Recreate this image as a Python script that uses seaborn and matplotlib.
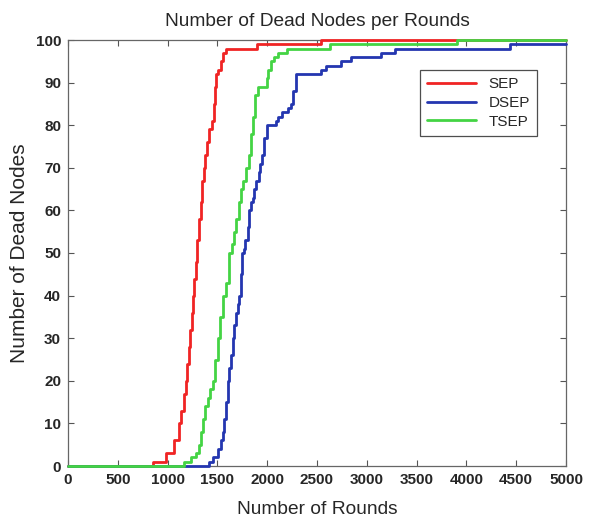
import matplotlib
matplotlib.use("Agg")
import matplotlib.pyplot as plt
import seaborn as sns
import pandas as pd

# ---- data ----
sep_rounds = [0, 858, 983, 1066, 1110, 1135, 1160, 1180, 1195, 1210,
              1225, 1240, 1255, 1270, 1285, 1300, 1318, 1335, 1350, 1368,
              1380, 1392, 1412, 1450, 1462, 1475, 1490, 1510, 1536, 1560,
              1587, 1894, 2542, 5000]
sep_dead = [0, 1, 3, 6, 10, 13, 17, 20, 24, 28,
            32, 36, 40, 44, 48, 53, 58, 62, 67, 70,
            73, 76, 79, 81, 85, 89, 92, 93, 95, 97,
            98, 99, 100, 100]

dsep_rounds = [0, 1412, 1452, 1502, 1536, 1555, 1570, 1590, 1603, 1620,
               1637, 1653, 1670, 1687, 1705, 1720, 1735, 1747, 1765, 1781,
               1804, 1821, 1838, 1854, 1870, 1892, 1914, 1930, 1947, 1971,
               1995, 2089, 2105, 2150, 2206, 2240, 2262, 2290, 2542, 2592,
               2743, 2844, 3146, 3280, 4437, 5000]
dsep_dead = [0, 1, 2, 4, 6, 8, 11, 15, 20, 23,
             26, 30, 33, 36, 38, 40, 45, 50, 51, 53,
             56, 60, 62, 63, 65, 67, 69, 71, 73, 77,
             80, 81, 82, 83, 84, 85, 88, 92, 93, 94,
             95, 96, 97, 98, 99, 99]

tsep_rounds = [0, 1167, 1234, 1284, 1318, 1340, 1358, 1380, 1405, 1430,
               1452, 1480, 1509, 1530, 1553, 1587, 1620, 1645, 1664, 1690,
               1714, 1737, 1754, 1788, 1821, 1840, 1862, 1882, 1912, 1995,
               2010, 2040, 2072, 2105, 2196, 2626, 3901, 5000]
tsep_dead = [0, 1, 2, 3, 5, 8, 11, 14, 16, 18,
             20, 25, 30, 35, 40, 43, 50, 52, 55, 58,
             62, 65, 67, 70, 73, 78, 82, 87, 89, 91,
             93, 95, 96, 97, 98, 99, 100, 100]

series_names = ["SEP", "DSEP", "TSEP"]
series_colors = {"SEP": "#f02424", "DSEP": "#2436b0", "TSEP": "#44d444"}
x_ticks = [0, 500, 1000, 1500, 2000, 2500, 3000, 3500, 4000, 4500, 5000]
y_ticks = [0, 10, 20, 30, 40, 50, 60, 70, 80, 90, 100]

frames = []
for name, xr, yd in [("SEP", sep_rounds, sep_dead),
                     ("DSEP", dsep_rounds, dsep_dead),
                     ("TSEP", tsep_rounds, tsep_dead)]:
    frames.append(pd.DataFrame({"rounds": xr, "dead": yd, "protocol": name}))
df = pd.concat(frames, ignore_index=True)

sns.set_style("ticks")
plt.rcParams["font.family"] = ["Liberation Sans", "DejaVu Sans"]

fig = plt.figure(figsize=(5.89, 5.24), dpi=100)
ax = fig.add_axes([68 / 589, 1 - 466 / 524, (566 - 68) / 589, (466 - 40) / 524])

for name in series_names:
    sub = df[df["protocol"] == name]
    sns.lineplot(data=sub, x="rounds", y="dead", ax=ax, color=series_colors[name],
                 label=name, drawstyle="steps-post", estimator=None, sort=False,
                 linewidth=2.0, zorder=3, clip_on=False)

ax.set_xlim(0, 5000)
ax.set_ylim(0, 100)
ax.set_xticks(x_ticks)
ax.set_yticks(y_ticks)
ax.tick_params(direction="in", length=4, width=0.8, color="#555555",
               top=True, right=True, labelsize=11, pad=5)
for lab in ax.get_xticklabels() + ax.get_yticklabels():
    lab.set_fontweight("bold")
for sp in ax.spines.values():
    sp.set_visible(True)
    sp.set_color("#666666")
    sp.set_linewidth(0.9)
    sp.set_zorder(2)

ax.set_title("Number of Dead Nodes per Rounds", fontsize=13.8, pad=10)
ax.set_xlabel("Number of Rounds", fontsize=13.8, labelpad=10)
ax.set_ylabel("Number of Dead Nodes", fontsize=15, labelpad=5)

leg = ax.legend(loc="upper right", bbox_to_anchor=(0.958, 0.948), fontsize=11,
                handlelength=3.2, frameon=True, fancybox=False, borderpad=0.5,
                labelspacing=0.3)
leg.get_frame().set_edgecolor("#222222")
leg.get_frame().set_linewidth(0.9)
leg.set_zorder(5)

fig.savefig("out.png", dpi=100)
